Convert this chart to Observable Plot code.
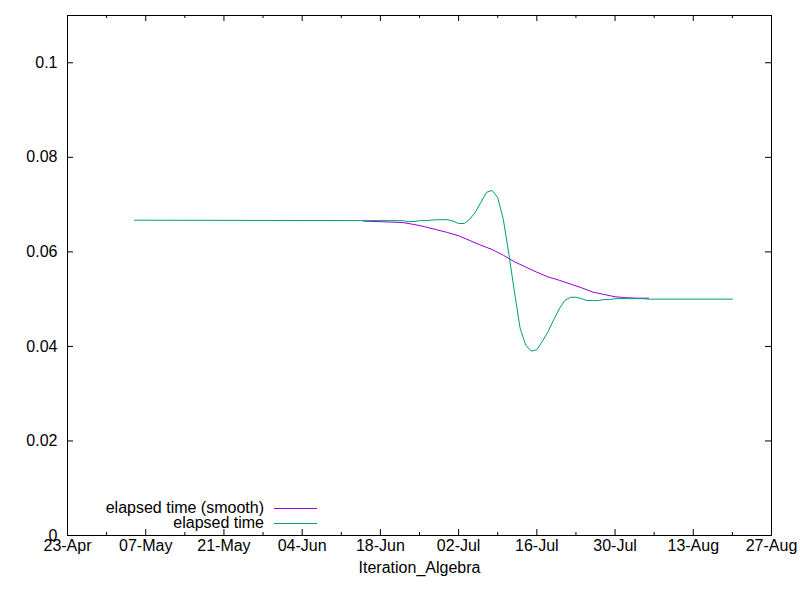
<!DOCTYPE html>
<html>
<head>
<meta charset="utf-8">
<script src="https://cdn.jsdelivr.net/npm/d3@7"></script>
<script src="https://cdn.jsdelivr.net/npm/@observablehq/plot@0.6"></script>
<style>
  html, body { margin: 0; padding: 0; background: white; }
  #chart { width: 800px; height: 600px; }
</style>
</head>
<body>
<div id="chart"></div>
<script>
// ---- data ----
const rawDates = ["2023-05-05","2023-06-22","2023-06-23","2023-06-24","2023-06-25","2023-06-26","2023-06-27","2023-06-28","2023-06-29","2023-06-30",
  "2023-07-01","2023-07-02","2023-07-03","2023-07-04","2023-07-05","2023-07-06","2023-07-07","2023-07-08","2023-07-09","2023-07-10",
  "2023-07-11","2023-07-12","2023-07-13","2023-07-14","2023-07-15","2023-07-16","2023-07-17","2023-07-18","2023-07-19","2023-07-20",
  "2023-07-21","2023-07-22","2023-07-23","2023-07-24","2023-07-25","2023-07-26","2023-07-27","2023-07-28","2023-07-29","2023-07-30",
  "2023-08-04","2023-08-05","2023-08-20"];
const rawValues = [0.0667,0.0666,0.0664,0.0664,0.0666,0.0666,0.0667,0.0668,0.0668,0.0668,
  0.0665,0.0660,0.0660,0.0669,0.0684,0.0705,0.0726,0.0730,0.0715,0.0669,
  0.0595,0.0515,0.0439,0.0403,0.0390,0.0393,0.0411,0.0431,0.0456,0.0479,
  0.0497,0.0504,0.0504,0.0501,0.0497,0.0497,0.0497,0.0499,0.0499,0.0501,
  0.0501,0.0500,0.0500];

const smoothDates = ["2023-06-15","2023-06-20","2023-06-22","2023-06-24","2023-06-26","2023-06-28","2023-06-30","2023-07-02","2023-07-04","2023-07-06",
  "2023-07-08","2023-07-10","2023-07-12","2023-07-14","2023-07-16","2023-07-18","2023-07-20","2023-07-22","2023-07-24","2023-07-26",
  "2023-07-28","2023-07-30","2023-08-01","2023-08-03","2023-08-05"];
const smoothValues = [0.0665,0.0663,0.0662,0.0658,0.0653,0.0647,0.0641,0.0634,0.0624,0.0614,
  0.0605,0.0593,0.0579,0.0568,0.0557,0.0547,0.0540,0.0532,0.0524,0.0515,
  0.0510,0.0505,0.0503,0.0502,0.0502];

const xMajorTicks = ["2023-04-23","2023-05-07","2023-05-21","2023-06-04","2023-06-18","2023-07-02","2023-07-16","2023-07-30","2023-08-13","2023-08-27"];
const xMinorTicks = ["2023-04-30","2023-05-14","2023-05-28","2023-06-11","2023-06-25","2023-07-09","2023-07-23","2023-08-06","2023-08-20"];
const yTicks = [0, 0.02, 0.04, 0.06, 0.08, 0.1];
const xDomain = ["2023-04-23","2023-08-27"];
const yDomain = [0, 0.11];
const xLabel = "Iteration_Algebra";
const seriesNames = ["elapsed time (smooth)", "elapsed time"];
const seriesColors = ["#9400D3", "#009E73"];

// ---- build ----
const parse = s => new Date(s + "T00:00:00Z");
const raw = rawDates.map((d, i) => ({date: parse(d), value: rawValues[i]}));
const smooth = smoothDates.map((d, i) => ({date: parse(d), value: smoothValues[i]}));
const major = xMajorTicks.map(parse);
const minor = xMinorTicks.map(parse);
const fmtX = d3.utcFormat("%d-%b");
const fmtY = d => d === 0 ? "0" : String(+d.toFixed(2));

const W = 800, H = 600, mL = 67, mR = 29, mT = 15, mB = 65;
const pw = W - mL - mR, ph = H - mT - mB;

const chart = Plot.plot({
  width: W, height: H,
  marginLeft: mL, marginRight: mR, marginTop: mT, marginBottom: mB,
  style: {fontFamily: "'Liberation Sans', Arial, sans-serif", fontSize: "16px", color: "black", background: "white"},
  x: {type: "utc", domain: xDomain.map(parse), axis: null},
  y: {domain: yDomain, axis: null},
  marks: [
    // ticks (inward, mirrored)
    Plot.tickX(major, {x: d => d, insetTop: ph - 6, stroke: "black"}),
    Plot.tickX(major, {x: d => d, insetBottom: ph - 6, stroke: "black"}),
    Plot.tickX(minor, {x: d => d, insetTop: ph - 3, stroke: "black"}),
    Plot.tickX(minor, {x: d => d, insetBottom: ph - 3, stroke: "black"}),
    Plot.tickY(yTicks, {y: d => d, insetRight: pw - 6, stroke: "black"}),
    Plot.tickY(yTicks, {y: d => d, insetLeft: pw - 6, stroke: "black"}),
    // tick labels
    Plot.text(major, {x: d => d, frameAnchor: "bottom", dy: 15, text: d => fmtX(d), fill: "black", fontSize: 16}),
    Plot.text(yTicks, {y: d => d, frameAnchor: "left", dx: -10, textAnchor: "end", text: d => fmtY(d), fill: "black", fontSize: 16}),
    Plot.text([xLabel], {frameAnchor: "bottom", dy: 37, text: d => d, fill: "black", fontSize: 16}),
    // series
    Plot.line(smooth, {x: "date", y: "value", stroke: seriesColors[0], strokeWidth: 1}),
    Plot.line(raw, {x: "date", y: "value", stroke: seriesColors[1], strokeWidth: 1}),
    Plot.frame({stroke: "black"})
  ]
});

// legend inside plot, bottom-left (gnuplot style)
const svg = d3.select(chart);
const leg = svg.append("g").attr("font-family", "'Liberation Sans', Arial, sans-serif").attr("font-size", 16);
seriesNames.forEach((name, i) => {
  const cy = 507.5 + i * 15;
  leg.append("text").attr("x", 264).attr("y", cy).attr("dy", "0.35em")
    .attr("text-anchor", "end").attr("fill", "black").text(name);
  leg.append("line").attr("x1", 274).attr("x2", 317).attr("y1", cy + 1).attr("y2", cy + 1)
    .attr("stroke", seriesColors[i]).attr("stroke-width", 1);
});

document.getElementById("chart").appendChild(chart);
</script>
</body>
</html>
